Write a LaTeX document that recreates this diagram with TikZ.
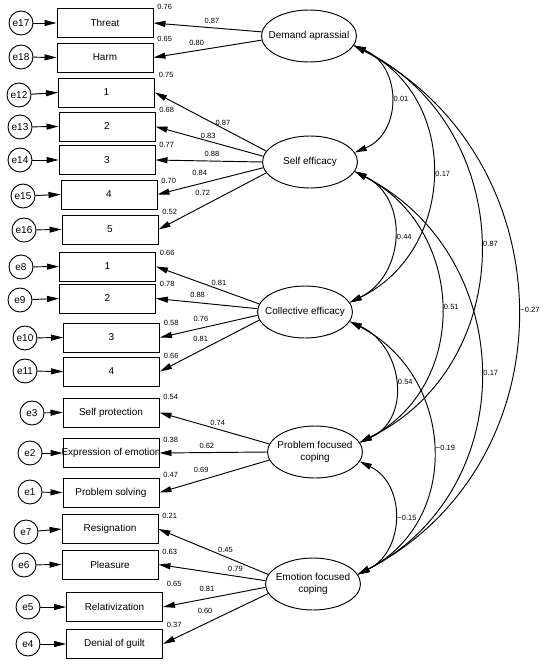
\documentclass[tikz,border=0pt]{standalone}
\usepackage{fontspec}
\setmainfont{Liberation Sans}
\usetikzlibrary{shapes.geometric,arrows.meta}
\tikzset{
latent/.style={draw, ellipse, minimum width=95pt, minimum height=52pt,
    inner xsep=-20pt, inner ysep=0pt, align=center},
obs/.style={draw, minimum width=96pt, minimum height=29pt, inner xsep=-4pt},
err/.style={draw, circle, minimum size=24pt, inner sep=0pt},
coef/.style={font=\fontsize{7.5}{9}\selectfont, inner sep=1pt},
resid/.style 2 args={label={[coef, anchor=west, xshift=2.5pt, yshift=#2pt]north east:#1}}
}

\begin{document}
\begin{tikzpicture}[x=1pt, y=-1pt, line width=0.95pt,
	>={Triangle[length=12pt,width=6pt]}]
	\useasboundingbox (0,0) rectangle (550,664);
	% latent factors
	\node[latent] (dem) at (309,36) {Demand aprassial};
	\node[latent] (self) at (310,162) {Self efficacy};
	\node[latent] (coll) at (305,312) {Collective efficacy};
	\node[latent] (prob) at (315,452) {Problem focused\\coping};
	\node[latent] (emo) at (313,584) {Emotion focused\\coping};
	% indicators and their errors
	\foreach \nm/\bx/\by/\tx/\en/\cx/\cy/\rs/\ly in {
		threat/105/23/Threat/e17/21/23/0.76/1.5,
		harm/105/57.5/Harm/e18/21/57/0.65/3.5,
		se1/106.5/92.5/1/e12/19/95/0.75/3,
		se2/107/126.5/2/e13/20/127/0.68/2,
		se3/107/160/3/e14/20/160/0.77/0.5,
		se4/109/194.5/4/e15/23/196/0.70/-1,
		se5/110/229.5/5/e16/24/230/0.52/3,
		ce1/107.5/266.5/1/e8/21/267/0.66/-1,
		ce2/107.5/298.5/2/e9/20/300/0.78/0,
		ce3/111.5/337.5/3/e10/25/338/0.58/0,
		ce4/111.5/371.5/4/e11/25/371/0.66/1,
		sprot/111/412.5/Self protection/e3/32/413/0.54/1,
		expr/111/453/Expression of emotion/e2/30/453/0.38/-1.5,
		psolv/111/492.5/Problem solving/e1/30/492/0.47/3,
		resig/110/529/Resignation/e7/26/532/0.21/-2,
		pleas/110/564.5/Pleasure/e6/24/565/0.63/-2,
		relat/114.5/607/Relativization/e5/28/607/0.65/8,
		denial/114.5/644/Denial of guilt/e4/28/644/0.37/4}
	{
		\node[obs, resid={\rs}{\ly}] (\nm) at (\bx,\by) {\tx};
		\node[err] (\en) at (\cx,\cy) {\en};
		\draw[->] (\en) -- (\nm.west);
	}
	% loadings
	\foreach \fa/\ang/\bo/\ps/\ds/\lb in {
		dem/175/threat/0.46/2.3pt/0.87, dem/185/harm/0.6/3.9pt/0.80,
		self/166/se1/0.39/1.3pt/0.87, self/173/se2/0.51/1.3pt/0.83,
		self/180/se3/0.47/3.3pt/0.88, self/187/se4/0.6/6.3pt/0.84,
		self/194/se5/0.59/9pt/0.72,
		coll/170/ce1/0.39/2.3pt/0.81, coll/176/ce2/0.59/3.3pt/0.88,
		coll/184/ce3/0.58/5.3pt/0.76, coll/190/ce4/0.59/7.7pt/0.81,
		prob/170/sprot/0.47/2.6pt/0.74, prob/180/expr/0.56/2.8pt/0.62,
		prob/190/psolv/0.62/6.3pt/0.69,
		emo/168/resig/0.39/2.3pt/0.45, emo/176/pleas/0.28/3.3pt/0.79,
		emo/184/relat/0.57/5.9pt/0.81, emo/192/denial/0.6/8.8pt/0.60}
		\draw[->] (\fa.\ang) -- (\bo.east) node[coef, pos=\ps, above=\ds] {\lb};
	% covariances
	\foreach \fs/\ft/\dx/\dy/\lb in {
		dem/self/48/20/0.01, dem/coll/107/52/0.17, dem/prob/164/81/0.87,
		dem/emo/215/112/−0.27, self/coll/55/27/0.44, self/prob/111/57/0.51,
		self/emo/165/85/0.17, coll/prob/53/24/0.54, coll/emo/105/54/−0.19,
		prob/emo/47/23/−0.15}
		\draw[<->] (\fs.-12) .. controls +(\dx,\dy) and +(\dx,-\dy) .. (\ft.12)
			node[coef, pos=0.5, right=2pt] {\lb};
\end{tikzpicture}
\end{document}
